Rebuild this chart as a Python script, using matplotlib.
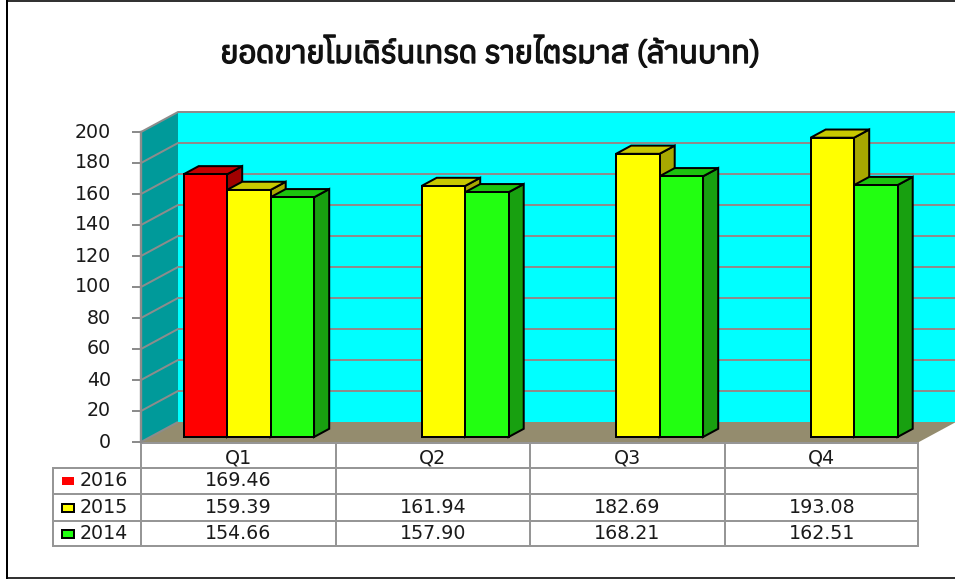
import matplotlib
matplotlib.use("Agg")
import matplotlib.pyplot as plt
import matplotlib.patheffects as pe
from matplotlib import font_manager as fm
from matplotlib.ft2font import FT2Font
from matplotlib.patches import Polygon, Rectangle
from matplotlib.lines import Line2D

title = "ยอดขายโมเดิร์นเทรด รายไตรมาส (ล้านบาท)"
quarters = ["Q1", "Q2", "Q3", "Q4"]
years = ["2016", "2015", "2014"]
v2016 = [169.46, None, None, None]
v2015 = [159.39, 161.94, 182.69, 193.08]
v2014 = [154.66, 157.90, 168.21, 162.51]
yticks = list(range(0, 201, 20))
front = ["#FF0000", "#FFFF00", "#22FF11"]
top = ["#C40000", "#C8C800", "#1CC40E"]
side = ["#A00000", "#A8A800", "#18A010"]

# find a font that has Thai glyphs
thai = []
for f in fm.fontManager.ttflist:
    try:
        if 0x0E22 in FT2Font(f.fname).get_charmap():
            thai.append(f.name)
    except Exception:
        pass
thai = sorted(set(thai))
title_font = (thai[:1] if thai else []) + ["DejaVu Sans"]

W, H = 955, 579
fig = plt.figure(figsize=(W / 100, H / 100), dpi=100, facecolor="white")
plt.rcParams["font.family"] = ["DejaVu Sans"]
px = 72 / 100
FS = 19 * px
TXT = "#1A1A1A"

# page overlay in pixel coordinates
page = fig.add_axes([0, 0, 1, 1], zorder=0)
page.set_xlim(0, W); page.set_ylim(H, 0); page.axis("off")

# front plane of the chart: x = categories, y = values
L, R, Y0, Y200 = 141, 919, 442, 132
ax = fig.add_axes([L / W, 1 - Y0 / H, (R - L) / W, (Y0 - Y200) / H], zorder=1)
ax.set_xlim(0, 4); ax.set_ylim(0, 200); ax.axis("off")
sx = (R - L) / 4
sy = (Y0 - Y200) / 200
DX, DY = 37 / sx, 20 / sy      # full depth, data units
GREY = "#8C8C8C"

def depth(x, y, d):
    return (x + d * DX, y + d * DY)

def poly(pts, fc, ec="none", lw=0, z=1):
    ax.add_patch(Polygon(pts, closed=True, facecolor=fc, edgecolor=ec, linewidth=lw * px,
                         zorder=z, clip_on=False, joinstyle="miter"))

# walls and floor
poly([depth(0, 0, 1), depth(4, 0, 1), depth(4, 200, 1), depth(0, 200, 1)], "#00FFFF", z=1)
poly([depth(0, 0, 0), depth(0, 0, 1), depth(0, 200, 1), depth(0, 200, 0)], "#009A9A", z=1)
poly([depth(0, 0, 0), depth(4, 0, 0), depth(4, 0, 1), depth(0, 0, 1)], "#948C6E", z=2)

for t in yticks:
    pts = [depth(0, t, 0), depth(0, t, 1), depth(4, t, 1)]
    if t == 0:
        pts = pts[:2]
    ax.plot([p[0] for p in pts], [p[1] for p in pts], color=GREY, lw=2 * px, zorder=3,
            clip_on=False, solid_capstyle="butt")
    ax.plot([-8 / sx, 0], [t, t], color=GREY, lw=2 * px, zorder=3, clip_on=False)
    ax.text(-30 / sx, t, str(t), ha="right", va="center", fontsize=FS, color=TXT,
            clip_on=False)
ax.plot([0, 0], [0, 200], color=GREY, lw=2.4 * px, zorder=3, clip_on=False)

# bars
D0, D1 = 0.25, 0.66
GAP, BW = 0.171, 0.2237
series = [v2016, v2015, v2014]
for q in range(4):
    for s, vals in enumerate(series):
        v = vals[q]
        if v is None:
            continue
        x0 = q + GAP + s * BW
        x1 = x0 + BW
        kw = dict(ec="black", lw=2, z=4 + q + s * 0.1)
        poly([depth(x1, 0, D0), depth(x1, 0, D1), depth(x1, v, D1), depth(x1, v, D0)], side[s], **kw)
        poly([depth(x0, v, D0), depth(x1, v, D0), depth(x1, v, D1), depth(x0, v, D1)], top[s], **kw)
        poly([depth(x0, 0, D0), depth(x1, 0, D0), depth(x1, v, D0), depth(x0, v, D0)], front[s], **kw)

# data table
rows_y = [443, 468, 494, 521, 546]
cols_x = [L + i * sx for i in range(5)]
cols_x[-1] = 918
TL = 53
def hline(x0, x1, y):
    page.add_line(Line2D([x0, x1], [y, y], color="#969696", lw=2 * px))
def vline(x, y0, y1):
    page.add_line(Line2D([x, x], [y0, y1], color="#969696", lw=2 * px))

for i, y in enumerate(rows_y):
    hline(L if i == 0 else TL, 918, y)
for x in cols_x:
    vline(x, rows_y[0], rows_y[-1])
vline(TL, rows_y[1], rows_y[-1])

for i, q in enumerate(quarters):
    page.text(cols_x[i] + sx / 2, 458.5, q, ha="center", va="center", fontsize=FS, color=TXT)
for r, (yr, vals) in enumerate(zip(years, series)):
    yc = (rows_y[r + 1] + rows_y[r + 2]) / 2
    ec = "none" if r == 0 else "black"
    page.add_patch(Rectangle((61.5, yc - 4), 12, 8, facecolor=front[r], edgecolor=ec, linewidth=2 * px))
    page.text(80, yc, yr, ha="left", va="center", fontsize=FS, color=TXT)
    for c, v in enumerate(vals):
        if v is not None:
            page.text(cols_x[c] + sx / 2, yc, f"{v:.2f}", ha="center", va="center",
                      fontsize=FS, color=TXT)

# outer frame
page.add_line(Line2D([7, 7], [0, 578], color="black", lw=2 * px))
page.add_line(Line2D([7, 955], [578, 578], color="black", lw=1.6 * px))
page.add_line(Line2D([7, 955], [0.5, 0.5], color="black", lw=1.6 * px))

page.text(490, 53, title, ha="center", va="center", fontsize=31 * px, fontweight="bold",
          family=title_font, color="#111111",
          path_effects=[pe.withStroke(linewidth=1.0, foreground="#111111")])

fig.savefig("out.png", dpi=100, facecolor="white")
